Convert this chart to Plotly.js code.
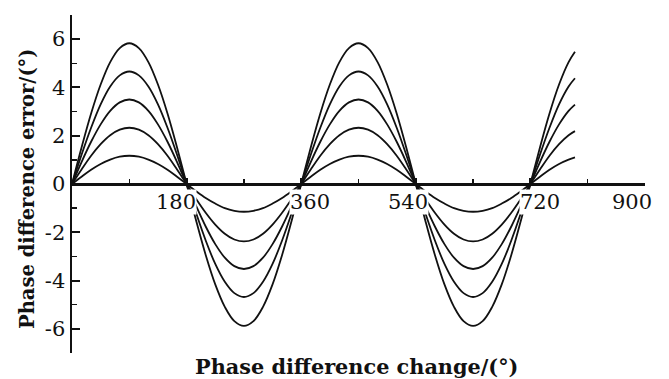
<!DOCTYPE html>
<html>
<head>
<meta charset="utf-8">
<script src="https://cdn.plot.ly/plotly-3.0.1.min.js"></script>
<style>html,body{margin:0;padding:0;background:#fff;}#chart{width:669px;height:379px;}</style>
</head>
<body>
<div id="chart"></div>
<script>
// Phase difference change (degrees)
const phaseChange = [0,15,30,45,60,75,90,105,120,135,150,165,180,195,210,225,240,255,270,285,300,315,330,345,360,375,390,405,420,435,450,465,480,495,510,525,540,555,570,585,600,615,630,645,660,675,690,705,720,735,750,765,780,790];

// Phase difference error (degrees), five curves, smallest to largest
const err1 = [0,0.30,0.59,0.83,1.01,1.13,1.17,1.13,1.01,0.83,0.59,0.30,0,
  -0.30,-0.58,-0.81,-1.00,-1.11,-1.15,-1.11,-1.00,-0.81,-0.58,-0.30,0,
  0.30,0.59,0.83,1.01,1.13,1.17,1.13,1.01,0.83,0.59,0.30,0,
  -0.30,-0.58,-0.81,-1.00,-1.11,-1.15,-1.11,-1.00,-0.81,-0.58,-0.30,0,
  0.30,0.59,0.83,1.01,1.10];
const err2 = [0,0.60,1.17,1.65,2.02,2.25,2.33,2.25,2.02,1.65,1.17,0.60,0,
  -0.62,-1.19,-1.68,-2.06,-2.30,-2.38,-2.30,-2.06,-1.68,-1.19,-0.62,0,
  0.60,1.17,1.65,2.02,2.25,2.33,2.25,2.02,1.65,1.17,0.60,0,
  -0.62,-1.19,-1.68,-2.06,-2.30,-2.38,-2.30,-2.06,-1.68,-1.19,-0.62,0,
  0.60,1.17,1.65,2.02,2.19];
const err3 = [0,0.91,1.75,2.47,3.03,3.38,3.50,3.38,3.03,2.47,1.75,0.91,0,
  -0.91,-1.76,-2.49,-3.05,-3.40,-3.52,-3.40,-3.05,-2.49,-1.76,-0.91,0,
  0.91,1.75,2.47,3.03,3.38,3.50,3.38,3.03,2.47,1.75,0.91,0,
  -0.91,-1.76,-2.49,-3.05,-3.40,-3.52,-3.40,-3.05,-2.49,-1.76,-0.91,0,
  0.91,1.75,2.47,3.03,3.29];
const err4 = [0,1.21,2.33,3.30,4.04,4.50,4.66,4.50,4.04,3.30,2.33,1.21,0,
  -1.21,-2.34,-3.31,-4.05,-4.52,-4.68,-4.52,-4.05,-3.31,-2.34,-1.21,0,
  1.21,2.33,3.30,4.04,4.50,4.66,4.50,4.04,3.30,2.33,1.21,0,
  -1.21,-2.34,-3.31,-4.05,-4.52,-4.68,-4.52,-4.05,-3.31,-2.34,-1.21,0,
  1.21,2.33,3.30,4.04,4.38];
const err5 = [0,1.51,2.92,4.12,5.05,5.63,5.83,5.63,5.05,4.12,2.92,1.51,0,
  -1.52,-2.94,-4.16,-5.09,-5.68,-5.88,-5.68,-5.09,-4.16,-2.94,-1.52,0,
  1.51,2.92,4.12,5.05,5.63,5.83,5.63,5.05,4.12,2.92,1.51,0,
  -1.52,-2.94,-4.16,-5.09,-5.68,-5.88,-5.68,-5.09,-4.16,-2.94,-1.52,0,
  1.51,2.92,4.12,5.05,5.48];

// Tick labels
const xTickVals = [180,360,540,720,900];
const xTickText = ['180','360','540','720','900'];
const yTickVals = [-6,-4,-2,0,2,4,6];
const yTickText = ['-6','-4','-2','0','2','4','6'];

const FONT = 'DejaVu Serif, Liberation Serif, serif';
const series = [err1, err2, err3, err4, err5];
const traces = series.map(ys => ({
  x: phaseChange, y: ys, type: 'scatter', mode: 'lines',
  line: {color: '#111', width: 1.8, shape: 'spline'},
  hoverinfo: 'skip', showlegend: false
}));

// x tick label placement offsets (labels sit beside their ticks, as in the original)
const xLabelShift = [-11, 9, -8, 10, -13];
const annotations = xTickVals.map((v, i) => ({
  x: v, y: 0, xref: 'x', yref: 'y', text: xTickText[i], showarrow: false,
  xshift: xLabelShift[i], yshift: -18, bgcolor: '#fff', borderpad: 0,
  font: {family: FONT, size: 21, color: '#111'}
}));
annotations.push({
  x: 0.5, y: 0, xref: 'paper', yref: 'paper', xanchor: 'center', yanchor: 'middle',
  xshift: -2, yshift: -13, text: 'Phase difference change/(°)', showarrow: false,
  font: {family: FONT, size: 20.8, color: '#111', weight: 'bold'}
});
annotations.push({
  x: 0, y: 0.5, xref: 'paper', yref: 'paper', xanchor: 'center', yanchor: 'middle',
  xshift: -45, yshift: -5, textangle: -90, text: 'Phase difference error/(°)', showarrow: false,
  font: {family: FONT, size: 19.5, color: '#111', weight: 'bold'}
});

const layout = {
  width: 669, height: 379,
  margin: {l: 72, r: 24, t: 15, b: 26},
  paper_bgcolor: '#fff', plot_bgcolor: '#fff',
  xaxis: {
    range: [0, 900], anchor: 'free', position: 0.5,
    showline: true, linecolor: '#111', linewidth: 2.5,
    tickmode: 'array', tickvals: [0,180,360,540,720,900], ticks: 'inside', ticklen: 5, tickwidth: 2, tickcolor: '#111',
    minor: {tickmode: 'array', tickvals: [90,270,450,630,810], ticks: 'inside', ticklen: 4, tickwidth: 1.5, tickcolor: '#111'},
    showticklabels: false, showgrid: false, zeroline: false
  },
  yaxis: {
    range: [-7, 7],
    showline: true, linecolor: '#111', linewidth: 2.5,
    tickmode: 'array', tickvals: yTickVals, ticktext: yTickText,
    ticks: 'inside', ticklen: 8, tickwidth: 2, tickcolor: '#111',
    minor: {tickmode: 'array', tickvals: [-7,-5,-3,-1,1,3,5,7], ticks: 'inside', ticklen: 5, tickwidth: 1.5, tickcolor: '#111'},
    tickfont: {family: FONT, size: 21, color: '#111'},
    ticklabelstandoff: 0,
    showgrid: false, zeroline: false
  },
  annotations: annotations
};

Plotly.newPlot('chart', traces, layout, {staticPlot: true});
</script>
</body>
</html>
